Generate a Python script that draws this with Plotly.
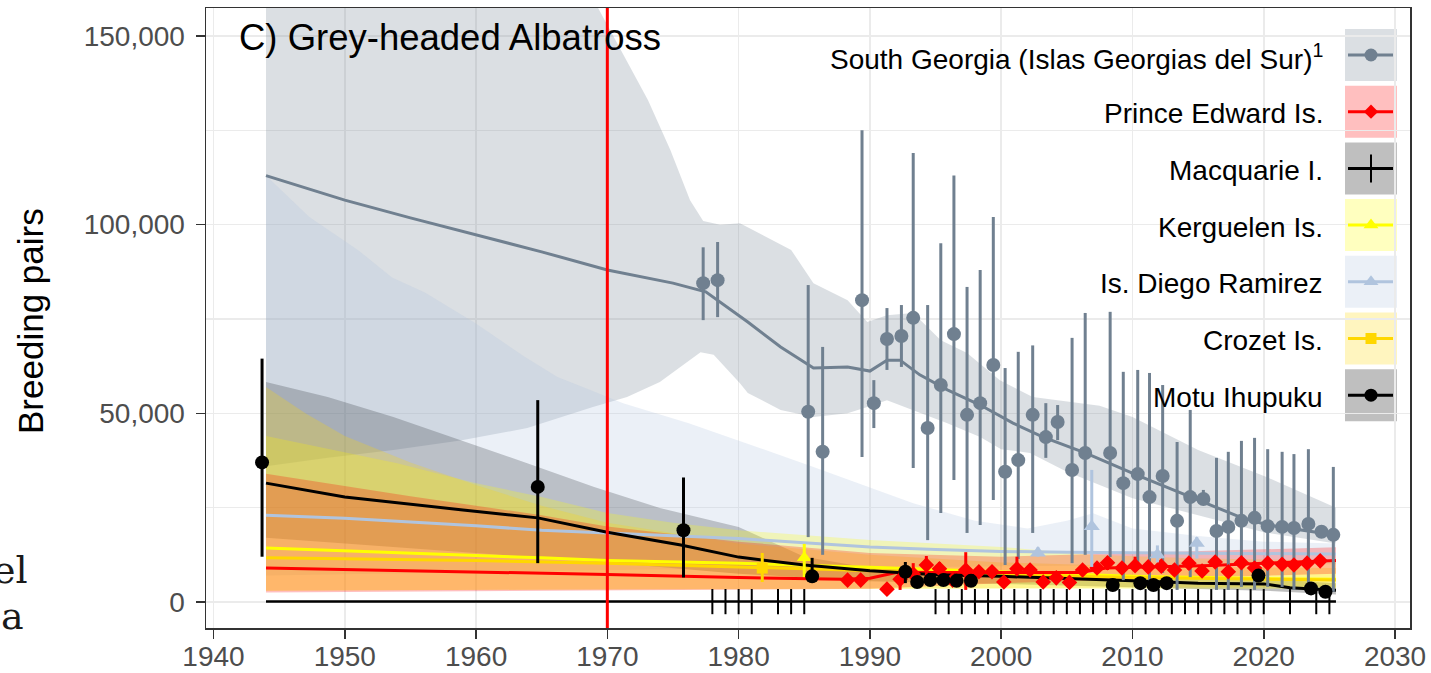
import plotly.graph_objects as go

# ---------------- data ----------------
REFERENCE_YEAR = 1970

# South Georgia (Islas Georgias del Sur)
SG_LINE_YEARS = [1944, 1950, 1955, 1960, 1965, 1970, 1975, 1977.5, 1980.7, 1983.2, 1985.7, 1988.3, 1990, 1991.3,
                 1992.3, 1993.8, 1995.9, 1998.4, 2000.9, 2003.2, 2006.4, 2010.3, 2014.4, 2018.2, 2020.3, 2025.3]
SG_LINE = [113000, 106500, 101800, 97300, 92800, 88000, 84500, 82200, 74200, 67600, 62000, 62300, 61200, 64100,
           64100, 60200, 56200, 52200, 47400, 43700, 39500, 33700, 27800, 22500, 20400, 17800]
SG_UP_YEARS = [1944, 1955, 1965, 1969.3, 1973.1, 1974.8, 1976.3, 1977.3, 1978.6, 1980.1, 1984, 1985.7, 1988.3,
               1989.8, 1991.3, 1993.3, 1995.4, 1997.4, 1999.9, 2002.4, 2007.5, 2010, 2015, 2020.3, 2025.5]
SG_UP = [290000, 240000, 185000, 157400, 133000, 119800, 106500, 101000, 100000, 100400, 93300, 84500, 80000,
         74200, 76000, 76600, 69400, 66000, 58800, 54300, 52000, 49000, 40300, 33000, 25000]
SG_LO_YEARS = [1944, 1948.7, 1953.7, 1958.8, 1963.9, 1968.9, 1971.5, 1974, 1977.1, 1978.1, 1980.1, 1980.7, 1983.2,
               1985.7, 1988.3, 1989.8, 1991.3, 1993.3, 1995.9, 1998.4, 2000, 2002.2, 2005, 2010, 2015, 2020, 2025.5]
SG_LO = [36000, 38200, 40300, 42800, 46100, 51700, 54300, 58300, 66200, 65500, 58000, 55400, 50900,
         49000, 50000, 51700, 53500, 50900, 47400, 43700, 40500, 39500, 34500, 27500, 23000, 18500, 15500]
SG_OBS_YEARS = [1977.3, 1978.4, 1985.3, 1986.4, 1989.4, 1990.3, 1991.3, 1992.4, 1993.3, 1994.4, 1995.4, 1996.4,
                1997.4, 1998.4, 1999.4, 2000.3, 2001.3, 2002.4, 2003.4, 2004.3, 2005.4, 2006.4, 2008.3, 2009.3,
                2010.4, 2011.3, 2012.3, 2013.4, 2014.4, 2015.4, 2016.4, 2017.3, 2018.3, 2019.3, 2020.3, 2021.4,
                2022.3, 2023.4, 2024.4, 2025.3]
SG_OBS = [84500, 85300, 50400, 39800, 80000, 52700, 69700, 70500, 75300, 46100, 57500, 71000,
          49600, 52700, 62800, 34500, 37600, 49600, 43700, 47700, 35000, 39500, 39500, 31500,
          33900, 27800, 33400, 21500, 27800, 27300, 18800, 19900, 21500, 22300, 20100, 19900,
          19600, 20700, 18600, 17800]
SG_OBS_LO = [74700, 75500, 17200, 12500, 38400, 46100, 61500, 62300, 35500, 16400, 23600, 32300,
             18300, 20400, 27000, 9800, 11400, 18300, 38200, 42900, 10300, 12500, 11900, 5800,
             8500, 3200, 7700, 3200, 6600, 25700, 3200, 3200, 4000, 3200, 4000, 4000,
             3200, 4000, 18600, 2700]
SG_OBS_HI = [94000, 95400, 84000, 67600, 125000, 58800, 77900, 78700, 119000, 78700, 95100, 113000,
             83500, 88000, 102000, 62000, 66300, 68000, 52700, 52200, 70000, 76600, 76900, 61000,
             61500, 60700, 57500, 42400, 50900, 29700, 38200, 39800, 42700, 43500, 40500, 39800,
             39200, 40500, 18600, 35800]

# Prince Edward Is.
PE_LINE_YEARS = [1944, 1955, 1970, 1980, 1988, 1990, 1992, 1995, 2000, 2006, 2008, 2012, 2016, 2020, 2025.5]
PE_LINE = [9000, 8300, 7300, 6500, 6000, 6300, 7800, 7800, 7800, 7800, 9000, 9300, 9700, 10300, 11000]
PE_UP_YEARS = [1944, 1955, 1965, 1970, 1980, 1990, 2000, 2010, 2020, 2025.5]
PE_UP = [34000, 28000, 23000, 20000, 16000, 13000, 12000, 13000, 14000, 14500]
PE_LO_YEARS = [1944, 1970, 1990, 2000, 2010, 2025.5]
PE_LO = [2500, 3000, 3500, 5000, 6000, 7500]
PE_OBS_YEARS = [1988.3, 1989.3, 1991.3, 1992.3, 1993.3, 1994.3, 1995.3, 1996.3, 1997.3, 1998.3, 1999.3, 2000.2,
                2001.2, 2002.2, 2003.2, 2004.2, 2005.2, 2006.2, 2007.3, 2008.1, 2009.2, 2010.2, 2011.2, 2012.2,
                2013.2, 2014.3, 2015.3, 2016.3, 2017.3, 2018.3, 2019.3, 2020.3, 2021.4, 2022.3, 2023.3, 2024.3]
PE_OBS = [5800, 5800, 3400, 6000, 7400, 9800, 8800, 5800, 8500, 8000, 8000, 5300,
          8800, 8500, 5300, 6400, 5200, 8500, 9000, 10400, 9000, 9600, 9300, 9500,
          8500, 10300, 8200, 10600, 8000, 10400, 9000, 10300, 10000, 9800, 10300, 10900]
PE_OBS_LO = [5300, 5300, 3000, 3200, 5800, 6600, 7400, 5300, 3200, 7400, 7400, 4800,
             8000, 7800, 4800, 5800, 4700, 7800, 8300, 8500, 8300, 8500, 8500, 8700,
             7800, 8500, 7500, 9800, 7400, 9600, 8300, 9600, 9300, 9000, 9600, 10000]
PE_OBS_HI = [6400, 6400, 3900, 8500, 10300, 12200, 10600, 6400, 13200, 8700, 8700, 5800,
             12000, 9300, 5800, 7000, 5700, 9300, 9800, 12000, 9800, 12000, 10100, 10300,
             9300, 11900, 8900, 11500, 8700, 11300, 9800, 11200, 10800, 10600, 11200, 11800]

# Macquarie I.
MAC_LINE_YEARS = [1944, 2025.5]
MAC_LINE = [100, 100]
MAC_OBS_YEARS = [1978, 1979, 1980, 1981, 1983, 1984, 1985, 1995, 1996, 1997, 1998, 1999, 2000, 2001, 2002,
                 2003, 2004, 2005, 2006, 2007, 2008, 2009, 2010, 2011, 2012, 2013, 2014, 2015, 2016, 2017,
                 2018, 2019, 2020, 2022, 2024, 2025]
MAC_OBS = [110, 100, 95, 100, 90, 95, 100, 85, 90, 95, 100, 90, 85, 95, 100,
           90, 95, 100, 95, 90, 100, 95, 90, 85, 90, 95, 100, 95, 90, 95,
           100, 95, 90, 95, 100, 95]

# Kerguelen Is.
KER_LINE_YEARS = [1944, 1950, 1960, 1965, 1970, 1980, 1985, 1990, 2000, 2010, 2020, 2025.5]
KER_LINE = [14300, 13500, 12300, 11700, 11000, 10300, 9800, 9200, 8000, 6800, 6200, 6000]
KER_UP_YEARS = [1944, 1954, 1960, 1965, 1970, 1975, 1980, 1990, 2000, 2007, 2015, 2025.5]
KER_UP = [44000, 36800, 31500, 27800, 23600, 21000, 19000, 16400, 14600, 12500, 11500, 11000]
KER_LO_YEARS = [1944, 1970, 2000, 2025.5]
KER_LO = [3000, 3300, 3500, 3500]
KER_OBS_YEARS = [1985.0]
KER_OBS = [11700]
KER_OBS_LO = [6600]
KER_OBS_HI = [15400]

# Is. Diego Ramirez
DR_LINE_YEARS = [1944, 1950, 1955, 1960, 1965, 1970, 1975, 1980, 1985, 1990, 1995, 2000, 2005, 2010, 2015, 2020, 2025.5]
DR_LINE = [23000, 22200, 21200, 20200, 19000, 18300, 17600, 16800, 15700, 14600, 13900, 13400, 13200, 13100, 13000, 12800, 12700]
DR_UP_YEARS = [1944, 1947.3, 1951, 1953.6, 1956.1, 1959.9, 1963.7, 1966.2, 1968.7, 1971.2, 1973.7, 1976.2, 1979.8,
               1985.7, 1993.3, 1998, 2002, 2005, 2007, 2010, 2015, 2020, 2025.5]
DR_UP = [113000, 102000, 93300, 86000, 82000, 74000, 65000, 59600, 56200, 52700, 50000, 47400, 43000,
         35800, 26200, 21500, 19500, 21500, 23500, 19500, 17500, 16000, 15500]
DR_LO_YEARS = [1944, 1970, 2000, 2025.5]
DR_LO = [7000, 8500, 9500, 10000]
DR_OBS_YEARS = [2002.8, 2006.9, 2011.9, 2014.9]
DR_OBS = [13000, 20000, 12500, 15600]
DR_OBS_LO = [12000, 9300, 10500, 11500]
DR_OBS_HI = [14500, 35000, 15000, 17200]

# Crozet Is.
CRO_LINE_YEARS = [1944, 1960, 1970, 1980, 1990, 2000, 2010, 2020, 2025.5]
CRO_LINE = [11700, 11000, 10300, 9300, 8300, 7300, 6500, 6000, 5800]
CRO_UP_YEARS = [1944, 1947, 1950, 1955, 1960, 1965, 1970, 1980, 1990, 2000, 2010, 2025.5]
CRO_UP = [57000, 50000, 44000, 37000, 31000, 25500, 21000, 15500, 12500, 10500, 9500, 9000]
CRO_LO_YEARS = [1944, 2025.5]
CRO_LO = [3000, 4000]
CRO_OBS_YEARS = [1981.8]
CRO_OBS = [9000]
CRO_OBS_LO = [5300]
CRO_OBS_HI = [13000]

# Motu Ihupuku
MOTU_LINE_YEARS = [1944, 1950, 1959, 1964.7, 1970, 1975.6, 1980, 1985, 1990, 1995, 2000, 2005, 2010, 2015, 2020, 2022, 2025.5]
MOTU_LINE = [31500, 27800, 24400, 22300, 18500, 15100, 11900, 9800, 8300, 7200, 6800, 6300, 5600, 5000, 4800, 3800, 3100]
MOTU_UP_YEARS = [1944, 1948.7, 1953.7, 1958.8, 1963.9, 1969, 1974, 1980, 1985, 1990, 2000, 2010, 2020, 2025.5]
MOTU_UP = [58300, 54300, 49000, 43000, 36800, 30500, 24900, 19900, 12000, 9000, 8000, 7200, 6200, 5000]
MOTU_LO_YEARS = [1944, 1950, 1960, 1970, 1980, 1990, 2000, 2010, 2020, 2025.5]
MOTU_LO = [17000, 15500, 13000, 10500, 7500, 5500, 4800, 4000, 3000, 2000]
MOTU_OBS_YEARS = [1943.7, 1964.7, 1975.8, 1985.6, 1992.7, 1993.6, 1994.6, 1995.6, 1996.6, 1997.7, 2008.5, 2010.6,
                  2011.6, 2012.6, 2019.6, 2023.6, 2024.7]
MOTU_OBS = [37000, 30500, 19000, 6800, 8000, 5300, 5800, 5800, 5600, 5600, 4500, 5000,
            4500, 5000, 7000, 3600, 2700]
MOTU_OBS_LO = [12000, 10300, 6500, 5300, 5000, 4500, 4800, 4800, 4600, 4600, 3800, 4200,
               3800, 4200, 6000, 3000, 2200]
MOTU_OBS_HI = [64500, 53500, 33000, 11700, 10600, 6200, 6800, 6800, 6600, 6600, 5300, 6000,
               5300, 6000, 8000, 4200, 3200]

X_TICKS = [1940, 1950, 1960, 1970, 1980, 1990, 2000, 2010, 2020, 2030]
Y_TICKS = [0, 50000, 100000, 150000]
Y_TICK_TEXT = ["0", "50,000", "100,000", "150,000"]
Y_MINOR = [25000, 75000, 125000]

LEGEND_LABELS = ["South Georgia (Islas Georgias del Sur)<sup>1</sup>", "Prince Edward Is.", "Macquarie I.",
                 "Kerguelen Is.", "Is. Diego Ramirez", "Crozet Is.", "Motu Ihupuku"]

# ---------------- styles ----------------
C_SG = "#708090"
C_PE = "#FF0000"
C_MAC = "#000000"
C_KER = "#FFFF00"
C_DR = "#B0C4DE"
C_CRO = "#FFD700"
C_MOTU = "#000000"
ALPHA = 0.25

W, H = 1431, 673
L, R, T, B = 206, 1410, 8, 628
FONT = "Liberation Sans, Arial, sans-serif"


def px(x):
    return (x - L) / (R - L)


def py(y):
    return 1 - (y - T) / (B - T)


def hex_rgb(h):
    h = h.lstrip("#")
    return tuple(int(h[i:i + 2], 16) for i in (0, 2, 4))


def rgba(h, a):
    r, g, b = hex_rgb(h)
    return f"rgba({r},{g},{b},{a})"


def over_white(h, a):
    r, g, b = hex_rgb(h)
    return "rgb({},{},{})".format(*[round(255 - a * (255 - c)) for c in (r, g, b)])


fig = go.Figure()


def ribbon(uy, u, ly, lo, color):
    fig.add_trace(go.Scatter(
        x=list(uy) + list(ly)[::-1], y=list(u) + list(lo)[::-1],
        mode="lines", fill="toself", fillcolor=rgba(color, ALPHA),
        line=dict(width=0), hoverinfo="skip", showlegend=False))


def line(xs, ys, color, width=3):
    fig.add_trace(go.Scatter(x=xs, y=ys, mode="lines", line=dict(color=color, width=width),
                             hoverinfo="skip", showlegend=False))


def points(xs, ys, lo, hi, color, symbol, size):
    fig.add_trace(go.Scatter(
        x=xs, y=ys, mode="markers",
        marker=dict(color=color, symbol=symbol, size=size, line=dict(width=0)),
        error_y=dict(type="data", symmetric=False,
                     array=[h - v for h, v in zip(hi, ys)],
                     arrayminus=[v - l for v, l in zip(ys, lo)],
                     color=color, thickness=3, width=0),
        hoverinfo="skip", showlegend=False))


# ribbons
ribbon(SG_UP_YEARS, SG_UP, SG_LO_YEARS, SG_LO, C_SG)
ribbon(MOTU_UP_YEARS, MOTU_UP, MOTU_LO_YEARS, MOTU_LO, C_MOTU)
ribbon(DR_UP_YEARS, DR_UP, DR_LO_YEARS, DR_LO, C_DR)
ribbon(KER_UP_YEARS, KER_UP, KER_LO_YEARS, KER_LO, C_KER)
ribbon(CRO_UP_YEARS, CRO_UP, CRO_LO_YEARS, CRO_LO, C_CRO)
ribbon(PE_UP_YEARS, PE_UP, PE_LO_YEARS, PE_LO, C_PE)

# trend lines
line(SG_LINE_YEARS, SG_LINE, C_SG)
line(DR_LINE_YEARS, DR_LINE, C_DR)
line(KER_LINE_YEARS, KER_LINE, C_KER)
line(CRO_LINE_YEARS, CRO_LINE, C_CRO)
line(PE_LINE_YEARS, PE_LINE, C_PE)
line(MOTU_LINE_YEARS, MOTU_LINE, C_MOTU)
line(MAC_LINE_YEARS, MAC_LINE, C_MAC, 2.5)

# observations
points(SG_OBS_YEARS, SG_OBS, SG_OBS_LO, SG_OBS_HI, C_SG, "circle", 14)
points(PE_OBS_YEARS, PE_OBS, PE_OBS_LO, PE_OBS_HI, C_PE, "diamond", 12)
fig.add_trace(go.Scatter(x=MAC_OBS_YEARS, y=MAC_OBS, mode="markers",
                         marker=dict(symbol="line-ns", size=18, line=dict(color=C_MAC, width=2)),
                         hoverinfo="skip", showlegend=False))
points(KER_OBS_YEARS, KER_OBS, KER_OBS_LO, KER_OBS_HI, C_KER, "triangle-up", 13)
points(DR_OBS_YEARS, DR_OBS, DR_OBS_LO, DR_OBS_HI, C_DR, "triangle-up", 14)
points(CRO_OBS_YEARS, CRO_OBS, CRO_OBS_LO, CRO_OBS_HI, C_CRO, "square", 11)
points(MOTU_OBS_YEARS, MOTU_OBS, MOTU_OBS_LO, MOTU_OBS_HI, C_MOTU, "circle", 14)

# ---------------- manual legend (keys on the right of the labels) ----------------
shapes = [dict(type="line", xref="x", yref="paper", x0=REFERENCE_YEAR, x1=REFERENCE_YEAR, y0=0, y1=1,
               line=dict(color="#FF0000", width=3), layer="above")]
annotations = []
key_styles = [
    (C_SG, "circle", 13),
    (C_PE, "diamond", 11),
    (C_MAC, "line-ns", 20),
    (C_KER, "triangle-up", 13),
    (C_DR, "triangle-up", 13),
    (C_CRO, "square", 11),
    (C_MOTU, "circle", 13),
]
for i, (label, (col, sym, ms)) in enumerate(zip(LEGEND_LABELS, key_styles)):
    cy = 55 + i * 56.7
    shapes.append(dict(type="rect", xref="paper", yref="paper",
                       x0=px(1345), x1=px(1397), y0=py(cy + 26), y1=py(cy - 26),
                       fillcolor=over_white(col, ALPHA), line=dict(width=0), layer="between"))
    fig.add_trace(go.Scatter(x=[1348, 1393], y=[cy, cy], xaxis="x2", yaxis="y2", mode="lines",
                             line=dict(color=col, width=3), hoverinfo="skip", showlegend=False))
    if sym == "line-ns":
        mk = dict(symbol=sym, size=ms, line=dict(color=col, width=2))
    else:
        mk = dict(symbol=sym, size=ms, color=col, line=dict(width=0))
    fig.add_trace(go.Scatter(x=[1371], y=[cy], xaxis="x2", yaxis="y2", mode="markers",
                             marker=mk, hoverinfo="skip", showlegend=False))
    annotations.append(dict(xref="paper", yref="paper", x=px(1325), y=py(cy + 2), xanchor="right",
                            yanchor="middle", text=label, showarrow=False,
                            font=dict(family=FONT, size=28, color="#000000")))

# panel title
annotations.append(dict(xref="paper", yref="paper", x=px(237), y=py(38), xanchor="left", yanchor="middle",
                        text="C) Grey-headed Albatross", showarrow=False,
                        font=dict(family=FONT, size=36.5, color="#000000")))
# y-axis title
annotations.append(dict(xref="paper", yref="paper", x=px(30), y=py(321), xanchor="center", yanchor="middle",
                        text="Breeding pairs", textangle=-90, showarrow=False,
                        font=dict(family=FONT, size=35, color="#000000")))
# cropped text fragments at the left edge of the reference image
annotations.append(dict(xref="paper", yref="paper", x=px(30), y=py(570), xanchor="right", yanchor="middle",
                        text="el", showarrow=False,
                        font=dict(family="DejaVu Serif, serif", size=38, color="#1a1a1a")))
annotations.append(dict(xref="paper", yref="paper", x=px(26), y=py(616), xanchor="right", yanchor="middle",
                        text="a", showarrow=False,
                        font=dict(family="DejaVu Serif, serif", size=38, color="#1a1a1a")))

axis_common = dict(showline=True, linecolor="#333333", linewidth=1.5, mirror=True,
                   ticks="outside", ticklen=9, tickwidth=1.5, tickcolor="#333333",
                   showgrid=True, gridcolor="#EBEBEB", gridwidth=1.6, zeroline=False, automargin=False,
                   tickfont=dict(family=FONT, size=28, color="#4D4D4D"))

fig.update_layout(
    width=W, height=H,
    margin=dict(l=L, r=W - R, t=T, b=H - B, pad=0, autoexpand=False),
    paper_bgcolor="white", plot_bgcolor="white",
    showlegend=False,
    xaxis=dict(range=[1939.43, 2031.14], tickmode="array", tickvals=X_TICKS, ticklabelstandoff=-6,
               **axis_common),
    yaxis=dict(range=[-6890, 157420], tickmode="array", tickvals=Y_TICKS, ticktext=Y_TICK_TEXT,
               ticklabelstandoff=5,
               minor=dict(tickmode="array", tickvals=Y_MINOR, showgrid=True, gridcolor="#EBEBEB",
                          gridwidth=1.2, ticks=""),
               **axis_common),
    xaxis2=dict(overlaying="x", anchor="y2", range=[L, R], visible=False, showgrid=False, automargin=False),
    yaxis2=dict(overlaying="y", anchor="x2", range=[B, T], visible=False, showgrid=False, automargin=False),
    shapes=shapes,
    annotations=annotations,
)

fig.write_html("out.html", config={"displayModeBar": False, "staticPlot": True},
               post_script="document.body.style.margin='0';document.body.style.overflow='hidden';")
